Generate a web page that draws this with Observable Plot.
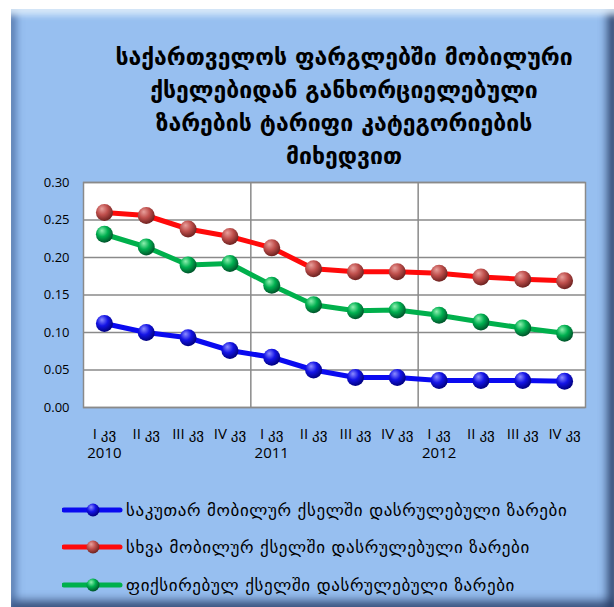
<!DOCTYPE html>
<html>
<head>
<meta charset="utf-8">
<script src="https://cdn.jsdelivr.net/npm/d3@7"></script>
<script src="https://cdn.jsdelivr.net/npm/@observablehq/plot@0.6"></script>
<style>
  html, body { margin: 0; padding: 0; background: #ffffff; }
  #page { position: relative; width: 614px; height: 607px; overflow: hidden; }
  #frame {
    position: absolute; left: 11px; top: 9px; width: 603px; height: 598px;
    background: #97bff0;
    box-shadow:
      inset 0 10px 6px -4px rgba(230,245,255,0.85),
      inset 10px 0 7px -4px rgba(60,95,150,0.55),
      inset -10px 0 8px -3px rgba(35,55,95,0.8),
      inset 0 -10px 8px -3px rgba(35,55,95,0.7);
  }
  #title {
    position: absolute; left: 84px; width: 520px; top: 41px;
    text-align: center; font-family: "DejaVu Sans", sans-serif; font-weight: bold;
    font-size: 23px; line-height: 33px; color: #000;
  }
  #chart { position: absolute; left: 0; top: 170px; }
  #legend { position: absolute; left: 62px; top: 491px; font-family: "DejaVu Sans", sans-serif; font-size: 17px; letter-spacing: 0.6px; color: #000; }
  .item { display: flex; align-items: center; height: 37.5px; white-space: nowrap; }
  .item svg { margin-right: 2px; }
</style>
</head>
<body>
<div id="page">
  <div id="frame"></div>
  <div id="title"></div>
  <div id="chart"></div>
  <div id="legend"></div>
</div>
<script>
const titleLines = [
  "საქართველოს ფარგლებში მობილური",
  "ქსელებიდან განხორციელებული",
  "ზარების ტარიფი კატეგორიების",
  "მიხედვით"
];
const quarters = ["I კვ","II კვ","III კვ","IV კვ","I კვ","II კვ","III კვ","IV კვ","I კვ","II კვ","III კვ","IV კვ"];
const years = ["2010","","","","2011","","","","2012","","",""];
const seriesNames = [
  "საკუთარ მობილურ ქსელში დასრულებული ზარები",
  "სხვა მობილურ ქსელში დასრულებული ზარები",
  "ფიქსირებულ ქსელში დასრულებული ზარები"
];
const ownNetwork = [0.112, 0.100, 0.093, 0.076, 0.067, 0.050, 0.040, 0.040, 0.036, 0.036, 0.036, 0.035];
const otherMobile = [0.260, 0.256, 0.238, 0.228, 0.213, 0.185, 0.181, 0.181, 0.179, 0.174, 0.171, 0.169];
const fixedNetwork = [0.231, 0.214, 0.190, 0.192, 0.163, 0.137, 0.129, 0.130, 0.123, 0.114, 0.106, 0.099];
const yTicks = [0, 0.05, 0.10, 0.15, 0.20, 0.25, 0.30];
const yearSeparators = [4.5, 8.5];

const lineColors = ["#0a0af0", "#ff0a0a", "#00b04c"];
const gradIds = ["gBlue", "gRed", "gGreen"];
const gradStops = [
  ["#8c8cff", "#1414e6", "#000080"],
  ["#e8a09c", "#c0504d", "#6e2220"],
  ["#8ff0b0", "#00b050", "#00542a"]
];

document.getElementById("title").innerHTML = titleLines.join("<br>");

const allSeries = [ownNetwork, otherMobile, fixedNetwork];
const data = allSeries.flatMap((vals, s) => vals.map((v, i) => ({ s, i: i + 1, v })));

const chart = Plot.plot({
  width: 614,
  height: 300,
  marginLeft: 83,
  marginRight: 29,
  marginTop: 12,
  marginBottom: 63,
  style: { background: "transparent", fontFamily: "'Open Sans', 'DejaVu Sans', sans-serif", color: "#000" },
  x: { domain: [0.5, 12.5], axis: null },
  y: { domain: [0, 0.30], axis: null },
  marks: [
    Plot.frame({ fill: "white", stroke: "none" }),
    Plot.ruleY(yTicks, { stroke: "#8a8a8a", strokeWidth: 1.5 }),
    Plot.ruleX(yearSeparators, { stroke: "#8a8a8a", strokeWidth: 1.5 }),
    Plot.frame({ stroke: "#8a8a8a", strokeWidth: 1.5 }),
    Plot.axisY(yTicks, { tickSize: 0, tickPadding: 14, fontSize: 13, tickFormat: d3.format(".2f"), label: null, fill: "#000" }),
    Plot.axisX(d3.range(1, 13), { tickSize: 0, tickPadding: 17, fontSize: 15, lineHeight: 1.32, label: null, fill: "#000",
      tickFormat: (d) => quarters[d - 1] + "\n" + years[d - 1] }),
    Plot.line(data, { x: "i", y: "v", z: "s", stroke: (d) => lineColors[d.s], strokeWidth: 5 }),
    ...gradIds.map((g, s) => Plot.dot(data.filter(d => d.s === s), { x: "i", y: "v", r: 8.5, fill: `url(#${g})`, stroke: "none" }))
  ]
});

function addDefs(svg) {
  const defs = d3.select(svg).insert("defs", ":first-child");
  gradIds.forEach((g, k) => {
    const rg = defs.append("radialGradient").attr("id", g)
      .attr("cx", "0.4").attr("cy", "0.35").attr("r", "0.65").attr("fx", "0.35").attr("fy", "0.28");
    rg.append("stop").attr("offset", "0").attr("stop-color", gradStops[k][0]);
    rg.append("stop").attr("offset", "0.5").attr("stop-color", gradStops[k][1]);
    rg.append("stop").attr("offset", "1").attr("stop-color", gradStops[k][2]);
  });
}
addDefs(chart);
document.getElementById("chart").appendChild(chart);

const legend = document.getElementById("legend");
seriesNames.forEach((name, k) => {
  const item = document.createElement("div");
  item.className = "item";
  const ns = "http://www.w3.org/2000/svg";
  const svg = document.createElementNS(ns, "svg");
  svg.setAttribute("width", "62"); svg.setAttribute("height", "20");
  const line = document.createElementNS(ns, "line");
  line.setAttribute("x1", "2"); line.setAttribute("x2", "58"); line.setAttribute("y1", "10"); line.setAttribute("y2", "10");
  line.setAttribute("stroke", lineColors[k]); line.setAttribute("stroke-width", "5"); line.setAttribute("stroke-linecap", "round");
  const c = document.createElementNS(ns, "circle");
  c.setAttribute("cx", "31"); c.setAttribute("cy", "10"); c.setAttribute("r", "6.5");
  c.setAttribute("fill", `url(#${gradIds[k]})`);
  svg.appendChild(line); svg.appendChild(c);
  item.appendChild(svg);
  const span = document.createElement("span");
  span.textContent = name;
  item.appendChild(span);
  legend.appendChild(item);
});
</script>
</body>
</html>
